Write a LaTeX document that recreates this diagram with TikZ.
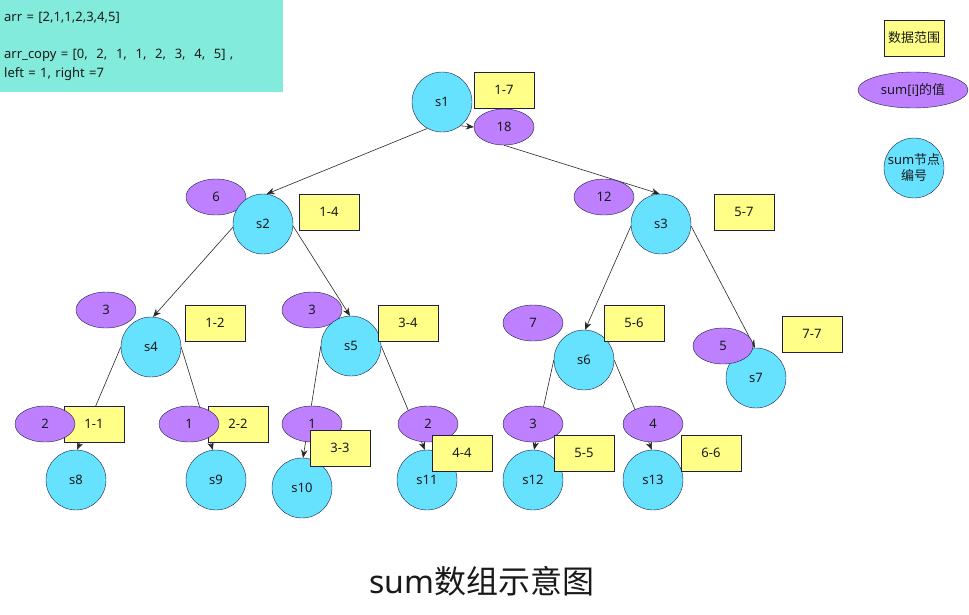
\documentclass[tikz,border=0pt]{standalone}
\usepackage{fontspec}
\setmainfont{Noto Sans}
\newfontfamily\cjk{Noto Sans CJK SC}
\usetikzlibrary{arrows.meta,shapes.geometric,backgrounds}

\definecolor{sblue}{RGB}{102,226,255}
\definecolor{spurple}{RGB}{191,128,255}
\definecolor{syellow}{RGB}{255,255,136}
\definecolor{steal}{RGB}{131,235,219}
\definecolor{navyline}{RGB}{30,30,72}

\begin{document}
\begin{tikzpicture}[
    x=1pt, y=-1pt,
    every node/.style={font=\fontsize{13}{16}\selectfont, text=black!90},
    snode/.style={circle, draw=navyline, fill=sblue, minimum size=60pt, inner sep=0pt},
    sumval/.style={ellipse, draw=navyline, fill=spurple, minimum width=60pt, minimum height=36pt, inner sep=0pt},
    rng/.style={rectangle, draw=navyline, fill=syellow, minimum width=60pt, minimum height=36pt, inner sep=0pt},
    infobox/.style={rectangle, fill=steal, minimum height=92pt, text width=275pt, inner xsep=4pt, align=left},
    link/.style={draw=black!85, line width=0.6pt, -{Stealth[length=8pt,width=6.5pt]}}
]
    \useasboundingbox (0,0) rectangle (969,614);

    \node[infobox, anchor=north west, font=\fontsize{13}{18.7}\selectfont] (info) at (0,0)
        {arr = [2,1,1,2,3,4,5]\\[18.7pt]
         arr\_copy = [0,\ \ 2,\ \ 1,\ \ 1,\ \ 2,\ \ 3,\ \ 4,\ \ 5] ,\\
         left = 1, right =7};

    \foreach \i/\x/\y/\t in {1/504/127/18, 2/216/197/6, 3/604/197/12, 4/106/310/3,
                            5/312/310/3, 6/533/323/7, 10/312/424/1, 11/428/424/2,
                            12/533/424/3, 13/653/424/4} {
        \node[sumval] (v\i) at (\x,\y) {\t};
    }

    \foreach \i/\x/\y in {1/442/102, 2/263/224, 3/661/224, 4/151/347, 5/351/346,
                          6/584/360, 7/756/378, 8/76/480, 9/216/480, 10/302/488,
                          11/427/480, 12/533/480, 13/653/480} {
        \node[snode] (s\i) at (\x,\y) {s\i};
    }

    \foreach \i/\x/\y/\t in {1/504/90/1-7, 2/329/212/1-4, 3/744/212/5-7, 4/215/323/1-2,
                            5/408/323/3-4, 6/634/323/5-6, 7/812/334/7-7, 8/94/424/1-1,
                            9/238/424/2-2, 10/340/448/3-3, 11/462/453/4-4,
                            12/584/453/5-5, 13/711/453/6-6} {
        \node[rng] (r\i) at (\x,\y) {\t};
    }

    \node[sumval] (v7) at (723,346) {5};
    \node[sumval] (v8) at (45,424) {2};
    \node[sumval] (v9) at (189,424) {1};

    \begin{scope}[on background layer]
        \foreach \a/\b in {s1.241/s2.83, s1.-52/v1.west, v1.south/s3.93,
                           s2.186/s4.86, s2.-4/s5.92, s3.184/s6.88, s3.-4/s7.92,
                           s4.west/s8.88, s4.east/s9.96, s5.west/s10.88, s5.east/s11.94,
                           s6.west/s12.88, s6.east/s13.92} {
            \draw[link] (\a) -- (\b);
        }
    \end{scope}

    \node[rng] (keyrng) at (914,38) {\cjk 数据范围};
    \node[sumval, minimum width=110pt] (keyval) at (913,90) {sum[i]{\cjk 的值}};
    \node[snode, align=center] (keynode) at (914,168) {sum{\cjk 节点}\\{\cjk 编号}};

    \node[font=\fontsize{32}{38}\selectfont] (title) at (482,581) {sum{\cjk 数组示意图}};
\end{tikzpicture}
\end{document}
